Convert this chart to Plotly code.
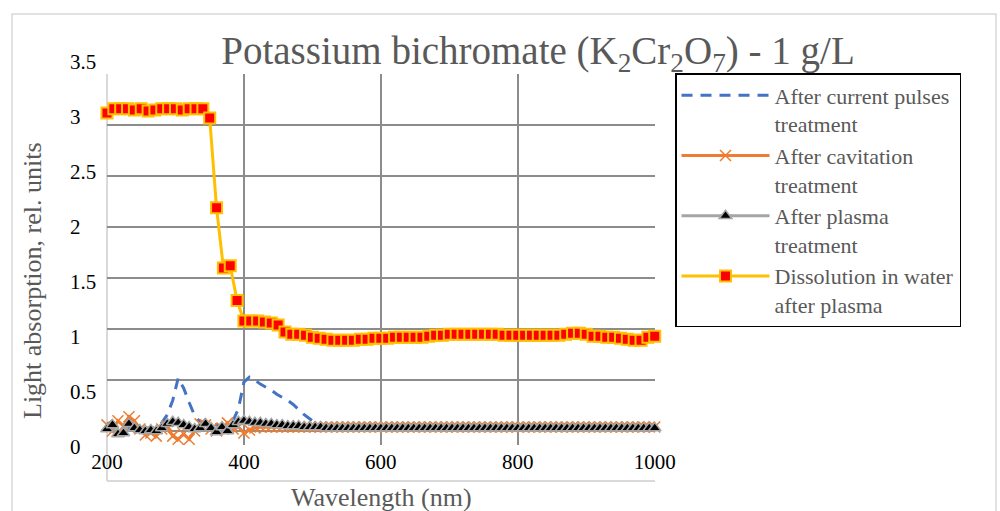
import plotly.graph_objects as go

# ---------------- data ----------------
wl_fine = list(range(200, 1001, 8))      # wavelength grid of the three lower series (nm)
wl_coarse = list(range(200, 1001, 10))   # wavelength grid of the dissolution series (nm)

current_pulses = [
    0.07, 0.09, 0.05, 0.03, 0.03, 0.03, 0.03, 0.03, 0.03, 0.04,
    0.08, 0.16, 0.30, 0.52, 0.42, 0.28, 0.15, 0.09, 0.08, 0.07,
    0.06, 0.05, 0.06, 0.10, 0.22, 0.48, 0.53, 0.50, 0.46, 0.43,
    0.40, 0.36, 0.33, 0.30, 0.26, 0.21, 0.16, 0.12, 0.08, 0.05,
    0.04, 0.03, 0.03, 0.03, 0.03, 0.03, 0.03, 0.03, 0.03, 0.03,
    0.03, 0.03, 0.03, 0.03, 0.03, 0.03, 0.03, 0.03, 0.03, 0.03,
    0.03, 0.03, 0.03, 0.03, 0.03, 0.03, 0.03, 0.03, 0.03, 0.03,
    0.03, 0.03, 0.03, 0.03, 0.03, 0.03, 0.03, 0.03, 0.03, 0.03,
    0.03, 0.03, 0.03, 0.03, 0.03, 0.03, 0.03, 0.03, 0.03, 0.03,
    0.03, 0.03, 0.03, 0.03, 0.03, 0.03, 0.03, 0.03, 0.03, 0.03,
    0.03,
]

cavitation = [
    0.06, 0.00, 0.10, 0.05, 0.14, 0.10, 0.02, -0.04, -0.02, -0.05,
    0.02, 0.05, -0.05, -0.08, -0.03, -0.08, 0.00, 0.07, 0.06, 0.02,
    0.00, 0.03, 0.08, 0.02, 0.04, -0.02, 0.01, 0.03, 0.04, 0.04,
    0.04, 0.04, 0.04, 0.04, 0.04, 0.04, 0.04, 0.04, 0.04, 0.04,
    0.04, 0.04, 0.04, 0.04, 0.04, 0.04, 0.04, 0.04, 0.04, 0.04,
    0.04, 0.04, 0.04, 0.04, 0.04, 0.04, 0.04, 0.04, 0.04, 0.04,
    0.04, 0.04, 0.04, 0.04, 0.04, 0.04, 0.04, 0.04, 0.04, 0.04,
    0.04, 0.04, 0.04, 0.04, 0.04, 0.04, 0.04, 0.04, 0.04, 0.04,
    0.04, 0.04, 0.04, 0.04, 0.04, 0.04, 0.04, 0.04, 0.04, 0.04,
    0.04, 0.04, 0.04, 0.04, 0.04, 0.04, 0.04, 0.04, 0.04, 0.04,
    0.04,
]

plasma = [
    0.02, 0.06, -0.03, -0.02, 0.07, 0.03, 0.01, 0.00, 0.01, 0.00,
    0.03, 0.07, 0.09, 0.08, 0.06, 0.04, 0.02, 0.03, 0.07, 0.03,
    -0.01, 0.04, 0.00, 0.06, 0.09, 0.10, 0.09, 0.08, 0.08, 0.07,
    0.07, 0.06, 0.06, 0.05, 0.05, 0.05, 0.04, 0.04, 0.04, 0.04,
    0.03, 0.03, 0.03, 0.03, 0.03, 0.03, 0.03, 0.03, 0.03, 0.03,
    0.03, 0.03, 0.03, 0.03, 0.03, 0.03, 0.03, 0.03, 0.03, 0.03,
    0.03, 0.03, 0.03, 0.03, 0.03, 0.03, 0.03, 0.03, 0.03, 0.03,
    0.03, 0.03, 0.03, 0.03, 0.03, 0.03, 0.03, 0.03, 0.03, 0.03,
    0.03, 0.03, 0.03, 0.03, 0.03, 0.03, 0.03, 0.03, 0.03, 0.03,
    0.03, 0.03, 0.03, 0.03, 0.03, 0.03, 0.03, 0.03, 0.03, 0.03,
    0.03,
]

dissolution = [
    3.12, 3.16, 3.16, 3.16, 3.15, 3.16, 3.14, 3.15, 3.16, 3.16,   # 200-290
    3.16, 3.15, 3.16, 3.16, 3.16, 3.07, 2.19, 1.60, 1.62, 1.28,   # 300-390
    1.08, 1.08, 1.08, 1.07, 1.06, 1.04, 0.97, 0.95, 0.95, 0.94,   # 400-490
    0.92, 0.91, 0.90, 0.89, 0.89, 0.89, 0.89, 0.90, 0.90, 0.91,   # 500-590
    0.91, 0.91, 0.92, 0.92, 0.92, 0.92, 0.92, 0.93, 0.94, 0.94,   # 600-690
    0.95, 0.95, 0.95, 0.95, 0.95, 0.95, 0.95, 0.95, 0.94, 0.94,   # 700-790
    0.94, 0.94, 0.94, 0.94, 0.94, 0.94, 0.94, 0.95, 0.96, 0.96,   # 800-890
    0.95, 0.93, 0.93, 0.92, 0.92, 0.91, 0.90, 0.89, 0.89, 0.92,   # 900-990
    0.93,                                                         # 1000
]

x_ticks = [200, 400, 600, 800, 1000]
y_ticks = [0, 0.5, 1, 1.5, 2, 2.5, 3, 3.5]
y_tick_text = ["0", "0.5", "1", "1.5", "2", "2.5", "3", "3.5"]

names = [
    "After current pulses<br>treatment",
    "After cavitation<br>treatment",
    "After plasma<br>treatment",
    "Dissolution in water<br>after plasma",
]

FONT = "Liberation Serif"
TXT = "#595959"
GRID = "#8C8C8C"
LIGHT = "#D9D9D9"

fig = go.Figure()

fig.add_trace(go.Scatter(
    x=wl_fine, y=current_pulses, name=names[0], mode="lines",
    line=dict(color="#4472C4", width=3, dash="11px,8px"), cliponaxis=False))

fig.add_trace(go.Scatter(
    x=wl_fine, y=cavitation, name=names[1], mode="lines+markers",
    line=dict(color="#ED7D31", width=3),
    marker=dict(symbol="x-thin", size=11, line=dict(color="#ED7D31", width=1.5)),
    cliponaxis=False))

fig.add_trace(go.Scatter(
    x=wl_fine, y=plasma, name=names[2], mode="lines+markers",
    line=dict(color="#A5A5A5", width=3),
    marker=dict(symbol="triangle-up", size=11, color="black",
                line=dict(color="#A5A5A5", width=1.5)),
    cliponaxis=False))

fig.add_trace(go.Scatter(
    x=wl_coarse, y=dissolution, name=names[3], mode="lines+markers",
    line=dict(color="#FFC000", width=3),
    marker=dict(symbol="square", size=11, color="#FF0000",
                line=dict(color="#FFC000", width=2)),
    cliponaxis=False))

# helper trace that carries the y tick labels on their own (label-only) axis
fig.add_trace(go.Scatter(
    x=[0, 1], y=[y_ticks[0], y_ticks[-1]], xaxis="x2", yaxis="y2",
    mode="markers", marker=dict(opacity=0), showlegend=False, hoverinfo="skip"))

# geometry (pixels): paper area 20..655 x 30..481, plot area starts at x=107
L, R, T, B = 20, 655, 30, 481
W, H = R - L, B - T


def py(p):
    return (B - p) / H


def px(p):
    return (p - L) / W


# main value axis: 0 -> y=431 px, 3.5 -> y=74 px, plot area 74..445 px
y_dom = [py(445), py(74)]
units_per_px = 3.5 / (431 - 74)
y_lo = -(445 - 431) * units_per_px

# label axis: "0" label at y=447 px, "3.5" label at y=62 px (label-only axis)
lab_units_per_px = 3.5 / (447 - 62)
lab_dom = [py(470), py(40)]
lab_range = [-(470 - 447) * lab_units_per_px, 3.5 + (62 - 40) * lab_units_per_px]

fig.update_layout(
    width=1000, height=511, autosize=False,
    margin=dict(l=L, r=1000 - R, t=T, b=511 - B, pad=0, autoexpand=False),
    paper_bgcolor="white", plot_bgcolor="rgba(0,0,0,0)",
    font=dict(family=FONT, color=TXT),
    title=dict(
        text="Potassium bichromate (K<sub>2</sub>Cr<sub>2</sub>O<sub>7</sub>) - 1 g/L",
        font=dict(family=FONT, size=39, color=TXT),
        xref="container", x=0.538, xanchor="center",
        yref="container", y=1 - 50 / 511, yanchor="middle"),
    xaxis=dict(
        domain=[px(107), 1], automargin=False,
        range=[200, 1000.4], tickvals=x_ticks, ticktext=[str(v) for v in x_ticks],
        showgrid=True, gridcolor=GRID, gridwidth=1.5, zeroline=False, showline=False,
        ticks="", ticklabelstandoff=2,
        tickfont=dict(family=FONT, size=21, color="black"), anchor="y"),
    yaxis=dict(
        domain=y_dom, range=[y_lo, 3.5 + 0.002], tickvals=y_ticks, automargin=False,
        showgrid=True, gridcolor=GRID, gridwidth=1.5, zeroline=False, showline=False,
        showticklabels=False, ticks=""),
    xaxis2=dict(domain=[px(67), 1], range=[0, 1], visible=False, anchor="y2",
                automargin=False),
    yaxis2=dict(
        domain=lab_dom, range=lab_range, tickvals=y_ticks, ticktext=y_tick_text,
        showgrid=False, zeroline=False, showline=False, automargin=False,
        anchor="x2", side="left", ticklabelposition="inside", ticks="",
        tickfont=dict(family=FONT, size=21, color="black")),
    legend=dict(
        x=px(675), y=py(73), xanchor="left", yanchor="top",
        bgcolor="white", bordercolor="black", borderwidth=1.5,
        font=dict(family=FONT, size=22, color=TXT),
        itemwidth=88, valign="top", tracegroupgap=0),
    showlegend=True,
)

fig.add_annotation(
    text="Light absorption, rel. units", textangle=-90,
    xref="paper", yref="paper", x=px(32), y=py(281),
    xanchor="center", yanchor="middle", showarrow=False,
    font=dict(family=FONT, size=26, color=TXT))

fig.add_annotation(
    text="Wavelength (nm)",
    xref="paper", yref="paper", x=px(381), y=py(498),
    xanchor="center", yanchor="middle", showarrow=False,
    font=dict(family=FONT, size=26, color=TXT))

# chart outer border and plot frame lines
fig.add_shape(type="rect", xref="paper", yref="paper",
              x0=px(12), x1=px(996), y0=py(560), y1=py(14),
              line=dict(color=LIGHT, width=1.5), layer="below")
fig.add_shape(type="line", xref="paper", yref="paper",
              x0=px(107), x1=px(107), y0=py(481), y1=py(74),
              line=dict(color=LIGHT, width=2), layer="between")
fig.add_shape(type="line", xref="paper", yref="paper",
              x0=px(107), x1=1, y0=py(481), y1=py(481),
              line=dict(color=LIGHT, width=2), layer="between")

fig.write_html("out.html")
